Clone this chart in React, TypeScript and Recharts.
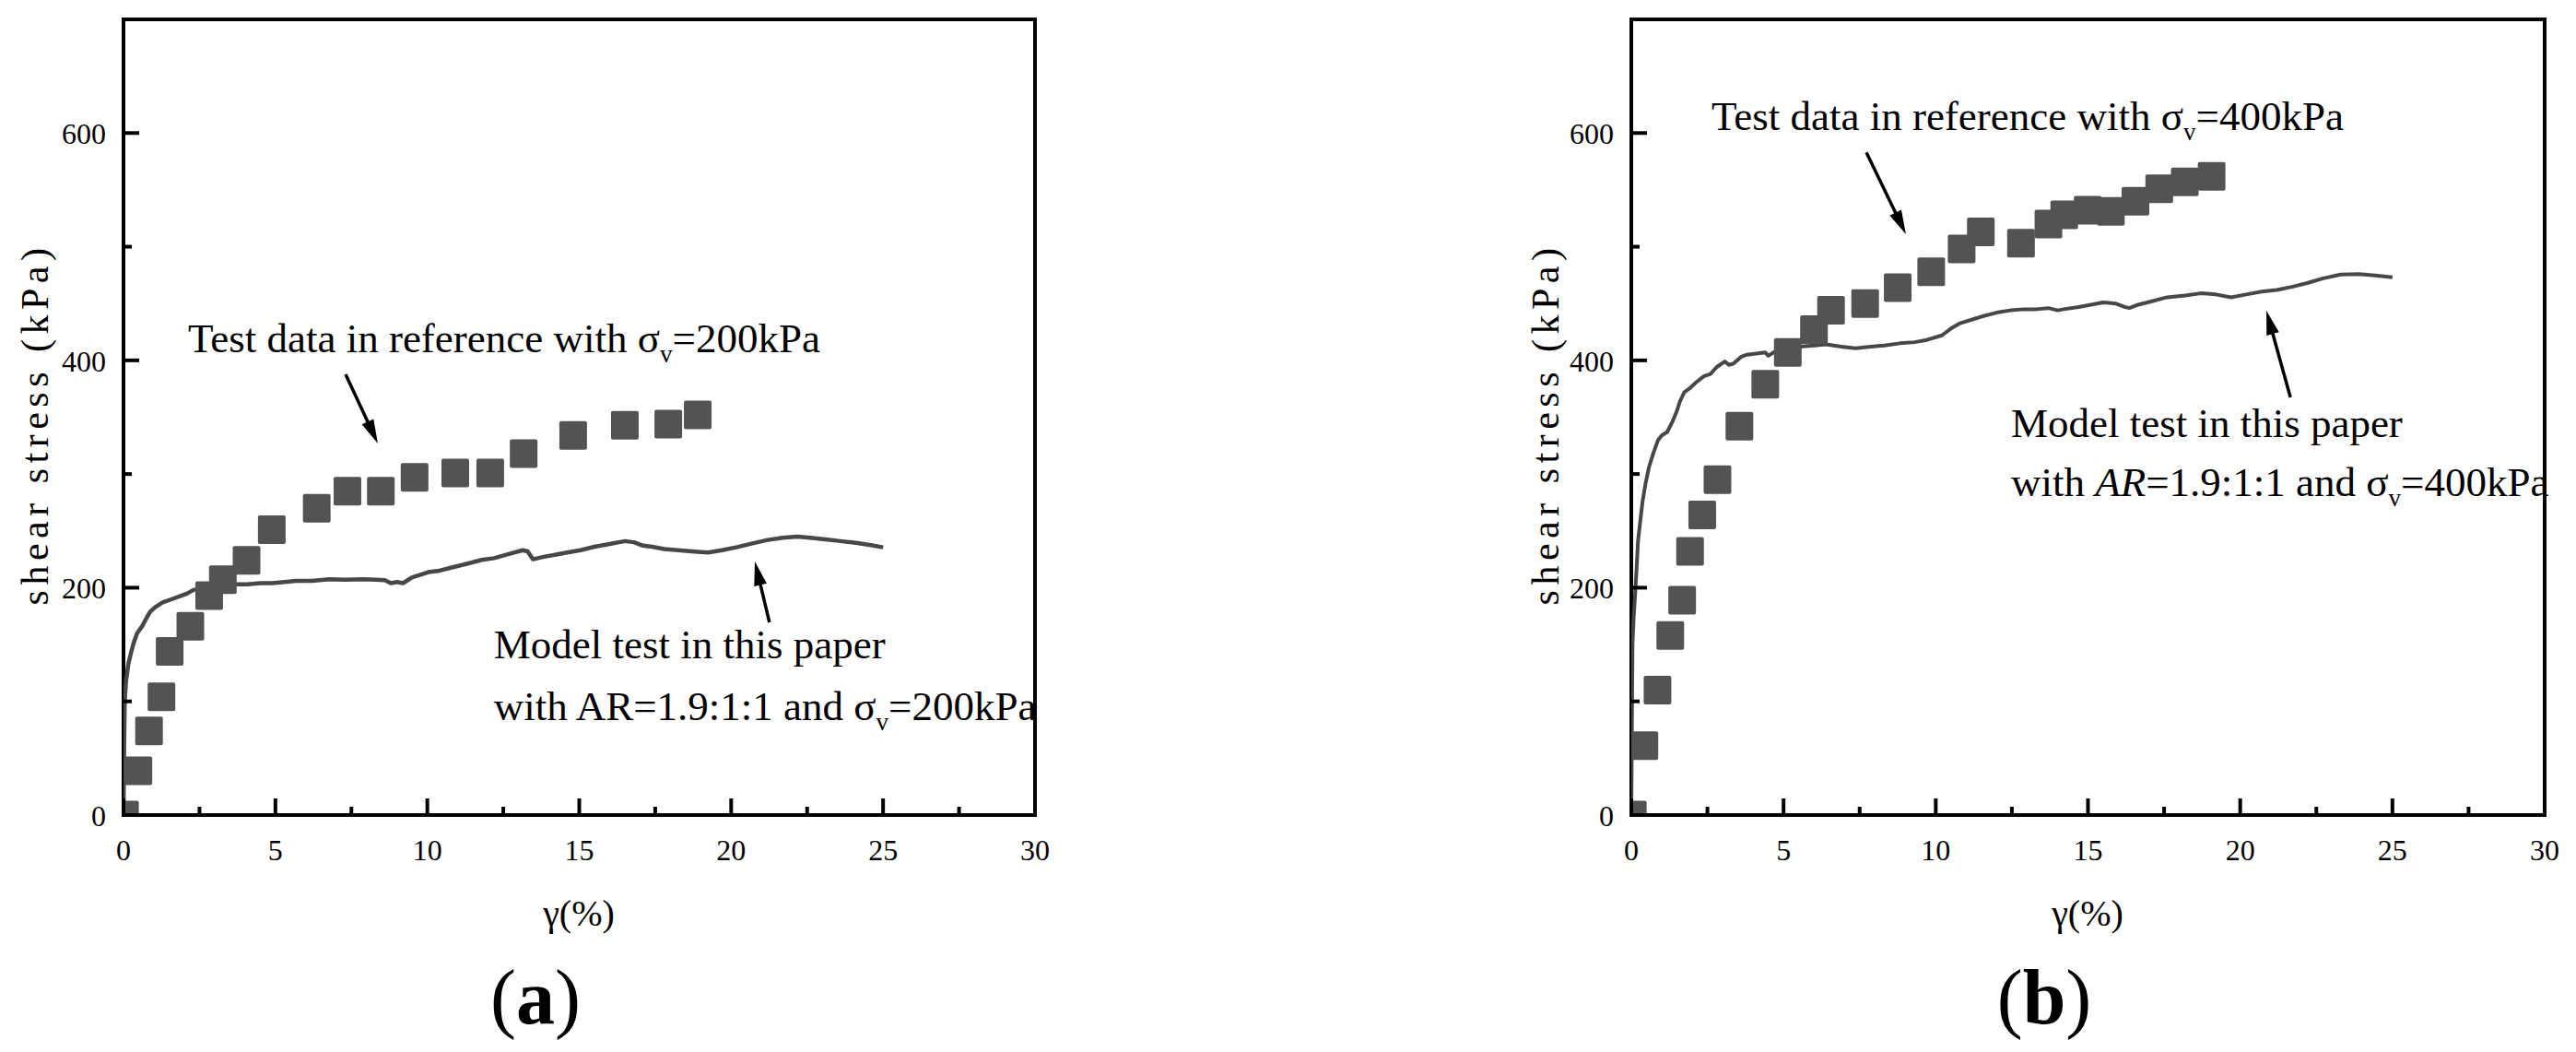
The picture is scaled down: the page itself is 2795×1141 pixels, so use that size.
import React from 'react';
import { ComposedChart, Scatter, Line, XAxis, YAxis, ReferenceArea, ReferenceLine, ReferenceDot } from 'recharts';

const SERIF = "'Liberation Serif', 'Times New Roman', serif";

// axis ticks
const xTicks = [0, 2.5, 5, 7.5, 10, 12.5, 15, 17.5, 20, 22.5, 25, 27.5, 30];
const xLabelTicks = [0, 5, 10, 15, 20, 25, 30];
const yTicks = [0, 100, 200, 300, 400, 500, 600];
const yLabelTicks = [0, 200, 400, 600];

// (a) test data in reference, sigma_v = 200 kPa  [gamma %, shear stress kPa]
const refA: [number, number][] = [
  [0.05, 0], [0.49, 39], [0.84, 74], [1.25, 104], [1.52, 144], [2.2, 166], [2.82, 193], [3.27, 207],
  [4.05, 224], [4.88, 251], [6.36, 270], [7.37, 285], [8.47, 285], [9.58, 297], [10.92, 301],
  [12.07, 301], [13.17, 318], [14.8, 334], [16.5, 343], [17.93, 344], [18.9, 352],
];

// (a) model test in this paper
const modelA: [number, number][] = [
  [0, 0], [0.02, 60], [0.04, 100], [0.08, 117], [0.16, 133], [0.25, 143], [0.34, 152], [0.45, 160],
  [0.61, 166], [0.75, 173], [0.88, 179], [1.05, 183], [1.29, 187], [1.6, 190], [1.9, 193], [2.1, 195],
  [2.3, 198], [2.5, 199], [2.6, 195], [2.71, 201], [3.0, 203], [3.32, 204], [3.7, 203], [4.07, 203],
  [4.5, 204], [4.88, 204], [5.3, 205], [5.69, 206], [6.2, 206], [6.78, 207.5], [7.3, 207], [7.86, 207.5],
  [8.3, 207], [8.6, 206.7], [8.8, 204], [9.0, 205], [9.2, 204], [9.49, 209], [10.03, 213.7], [10.4, 215],
  [10.84, 218], [11.3, 221], [11.79, 224.5], [12.2, 226], [12.6, 229], [13.14, 233], [13.3, 232],
  [13.48, 225], [13.8, 227], [14.2, 229], [14.6, 231], [15.04, 233], [15.5, 236], [16.0, 238.5],
  [16.5, 241], [16.8, 240], [17.1, 237], [17.4, 236], [17.8, 234], [18.26, 233], [18.7, 232],
  [19.24, 231], [19.7, 233], [20.2, 235.7], [20.7, 239], [21.2, 242], [21.7, 244], [22.17, 245],
  [22.6, 244], [23.1, 242.5], [23.6, 241], [24.1, 239.4], [24.6, 237.5], [25.0, 235.5],
];

// (b) test data in reference, sigma_v = 400 kPa
const refB: [number, number][] = [
  [0.05, 0], [0.43, 61], [0.86, 110], [1.28, 158], [1.67, 189], [1.93, 232], [2.33, 264], [2.83, 295],
  [3.55, 342], [4.4, 379], [5.14, 407], [6.0, 427], [6.56, 444], [7.68, 450], [8.75, 464], [9.85, 478],
  [10.85, 498], [11.48, 513], [12.8, 503], [13.7, 520], [14.22, 528], [14.99, 532], [15.75, 531],
  [16.56, 540], [17.34, 551], [18.18, 557], [19.06, 562],
];

// (b) model test in this paper
const modelB: [number, number][] = [
  [0, 0], [0.02, 80], [0.04, 152], [0.08, 175], [0.12, 192], [0.17, 215], [0.22, 241], [0.3, 260],
  [0.37, 276], [0.47, 292], [0.58, 306], [0.72, 318], [0.88, 330], [1.0, 334], [1.18, 337], [1.35, 346],
  [1.49, 355], [1.6, 364], [1.74, 372], [1.9, 375], [2.1, 380], [2.38, 386], [2.6, 388], [2.8, 394],
  [3.07, 399], [3.2, 396], [3.35, 397], [3.6, 403], [3.8, 405], [4.1, 406], [4.4, 407], [4.5, 404],
  [4.7, 407.5], [4.93, 409], [5.5, 412], [6.0, 413], [6.4, 414], [6.9, 412], [7.37, 410.6], [7.86, 412],
  [8.3, 413], [8.83, 415], [9.3, 416], [9.71, 418], [10.2, 422], [10.5, 428], [10.8, 432.7], [11.2, 436],
  [11.57, 439], [12.0, 442], [12.45, 444], [12.9, 445], [13.3, 445], [13.7, 446], [14.0, 444], [14.2, 445],
  [14.7, 447], [15.1, 449], [15.5, 451], [15.9, 450], [16.2, 447], [16.36, 446], [16.65, 449], [17.1, 452],
  [17.6, 455.5], [18.2, 457], [18.7, 459], [19.2, 458], [19.7, 455.5], [20.2, 458], [20.7, 460.5],
  [21.2, 462], [21.7, 464.7], [22.2, 468], [22.7, 472], [23.3, 475.5], [23.9, 476], [24.5, 474.5], [25.0, 473],
];

const toPts = (arr: [number, number][]) => arr.map(([x, y]) => ({ x, y }));

const XTick = (props: any) => {
  const { x, y, payload } = props;
  const v = payload.value;
  const major = xLabelTicks.includes(v);
  return (
    <g>
      <line x1={x} y1={y} x2={x} y2={y - (major ? 18 : 9)} stroke="#000" strokeWidth={4} />
      {major && (
        <text x={x} y={y + 49} textAnchor="middle" fontFamily={SERIF} fontSize={32} fill="#000">
          {v}
        </text>
      )}
    </g>
  );
};

const YTick = (props: any) => {
  const { x, y, payload } = props;
  const v = payload.value;
  const major = yLabelTicks.includes(v);
  return (
    <g>
      <line x1={x} y1={y} x2={x + (major ? 17 : 9)} y2={y} stroke="#000" strokeWidth={4} />
      {major && (
        <text x={x - 19} y={y + 12} textAnchor="end" fontFamily={SERIF} fontSize={32} fill="#000">
          {v}
        </text>
      )}
    </g>
  );
};

const Square = (p: any) => (
  <rect x={p.cx - 15} y={p.cy - 15.5} width={30} height={31} rx={2} fill="#535353" />
);

const Arrow = (p: any) => {
  const { x1, y1, x2, y2 } = p;
  const dx = x2 - x1;
  const dy = y2 - y1;
  const L = Math.hypot(dx, dy) || 1;
  const ux = dx / L;
  const uy = dy / L;
  const hl = 26;
  const hw = 7;
  const bx = x2 - ux * hl;
  const by = y2 - uy * hl;
  return (
    <g>
      <line x1={x1} y1={y1} x2={bx + ux * 4} y2={by + uy * 4} stroke="#000" strokeWidth={3.5} />
      <polygon
        points={`${x2},${y2} ${bx - uy * hw},${by + ux * hw} ${bx + uy * hw},${by - ux * hw}`}
        fill="#000"
      />
    </g>
  );
};

const sigmaText = (cx: number, cy: number, prefix: React.ReactNode, value: string) => (
  <text x={cx} y={cy} fontFamily={SERIF} fontSize={45} fill="#000">
    {prefix}σ
    <tspan fontSize={27} dy={11}>v</tspan>
    <tspan dy={-11}>{value}</tspan>
  </text>
);

const AXIS_W = 60;
const AXIS_H = 60;

interface PanelProps {
  left: number;
  width: number;
  margin: { top: number; left: number; right: number; bottom: number };
  refData: [number, number][];
  modelData: [number, number][];
  lineWidth: number;
  sigma: string;
  italicAR: boolean;
  testPos: { x: number; y: number };
  modelPos1: { x: number; y: number };
  modelPos2: { x: number; y: number };
  arrowTop: [{ x: number; y: number }, { x: number; y: number }];
  arrowBottom: [{ x: number; y: number }, { x: number; y: number }];
}

const Panel = (pp: PanelProps) => (
  <div style={{ position: 'absolute', left: pp.left, top: 0, width: pp.width, height: 1141 }}>
    <ComposedChart
      width={pp.width}
      height={1141}
      margin={{
        top: pp.margin.top,
        right: pp.margin.right,
        left: pp.margin.left - AXIS_W,
        bottom: pp.margin.bottom - AXIS_H,
      }}
    >
      <XAxis
        dataKey="x"
        type="number"
        domain={[0, 30]}
        ticks={xTicks}
        interval={0}
        allowDataOverflow
        height={AXIS_H}
        tickSize={0}
        tickMargin={0}
        tickLine={false}
        axisLine={false}
        tick={(p: any) => <XTick {...p} />}
      />
      <YAxis
        dataKey="y"
        type="number"
        domain={[0, 700]}
        ticks={yTicks}
        interval={0}
        allowDataOverflow
        width={AXIS_W}
        tickSize={0}
        tickMargin={0}
        tickLine={false}
        axisLine={false}
        tick={(p: any) => <YTick {...p} />}
      />
      <Scatter data={toPts(pp.refData)} dataKey="y" shape={Square} isAnimationActive={false} />
      <Line
        data={toPts(pp.modelData)}
        dataKey="y"
        type="linear"
        dot={false}
        activeDot={false}
        stroke="#474747"
        strokeWidth={pp.lineWidth}
        strokeLinejoin="round"
        isAnimationActive={false}
      />
      <ReferenceArea x1={0} x2={30} y1={0} y2={700} fill="none" fillOpacity={0} stroke="#000" strokeWidth={4} ifOverflow="visible" />
      <ReferenceLine segment={pp.arrowTop} ifOverflow="visible" shape={Arrow} />
      <ReferenceLine segment={pp.arrowBottom} ifOverflow="visible" shape={Arrow} />
      <ReferenceDot
        x={pp.testPos.x}
        y={pp.testPos.y}
        ifOverflow="visible"
        shape={(p: any) => sigmaText(p.cx, p.cy, 'Test data in reference with ', pp.sigma)}
      />
      <ReferenceDot
        x={pp.modelPos1.x}
        y={pp.modelPos1.y}
        ifOverflow="visible"
        shape={(p: any) => (
          <text x={p.cx} y={p.cy} fontFamily={SERIF} fontSize={45} fill="#000">
            Model test in this paper
          </text>
        )}
      />
      <ReferenceDot
        x={pp.modelPos2.x}
        y={pp.modelPos2.y}
        ifOverflow="visible"
        shape={(p: any) =>
          sigmaText(
            p.cx,
            p.cy,
            pp.italicAR ? (
              <>
                {'with '}
                <tspan fontStyle="italic">AR</tspan>
                {'=1.9:1:1 and '}
              </>
            ) : (
              'with AR=1.9:1:1 and '
            ),
            pp.sigma
          )
        }
      />
    </ComposedChart>
  </div>
);

const Labels = () => (
  <svg
    width={2795}
    height={1141}
    style={{ position: 'absolute', left: 0, top: 0, pointerEvents: 'none' }}
  >
    {[
      { yl: 52, cx: 628, pcx: 581, tag: 'a' },
      { yl: 1691, cx: 2265, pcx: 2218, tag: 'b' },
    ].map((d) => (
      <g key={d.tag}>
        <text
          transform={`translate(${d.yl},460) rotate(-90)`}
          textAnchor="middle"
          fontFamily={SERIF}
          fontSize={42}
          letterSpacing={5.5}
          fill="#000"
        >
          shear stress (kPa)
        </text>
        <text x={d.cx} y={1004} textAnchor="middle" fontFamily={SERIF} fontSize={40} fill="#000">
          γ(%)
        </text>
        <text x={d.pcx} y={1110} textAnchor="middle" fontFamily={SERIF} fontSize={84} fill="#000">
          (<tspan fontWeight="bold">{d.tag}</tspan>)
        </text>
      </g>
    ))}
  </svg>
);

export default function App() {
  return (
    <div
      style={{
        position: 'absolute',
        left: 0,
        top: 0,
        width: 2795,
        height: 1141,
        background: '#fff',
        overflow: 'hidden',
      }}
    >
      <Panel
        left={0}
        width={1397}
        margin={{ top: 21, left: 134, right: 274, bottom: 257 }}
        refData={refA}
        modelData={modelA}
        lineWidth={4.5}
        sigma="=200kPa"
        italicAR={false}
        testPos={{ x: 2.12, y: 407 }}
        modelPos1={{ x: 12.19, y: 138 }}
        modelPos2={{ x: 12.19, y: 83.5 }}
        arrowTop={[{ x: 7.31, y: 387.7 }, { x: 8.37, y: 326.9 }]}
        arrowBottom={[{ x: 21.26, y: 169.5 }, { x: 20.78, y: 223 }]}
      />
      <Panel
        left={1397}
        width={1398}
        margin={{ top: 21, left: 373, right: 34, bottom: 257 }}
        refData={refB}
        modelData={modelB}
        lineWidth={4}
        sigma="=400kPa"
        italicAR={true}
        testPos={{ x: 2.63, y: 602.6 }}
        modelPos1={{ x: 12.47, y: 332.5 }}
        modelPos2={{ x: 12.47, y: 280.6 }}
        arrowTop={[{ x: 7.72, y: 583 }, { x: 9.02, y: 511 }]}
        arrowBottom={[{ x: 21.65, y: 367.4 }, { x: 20.86, y: 443.7 }]}
      />
      <Labels />
    </div>
  );
}
